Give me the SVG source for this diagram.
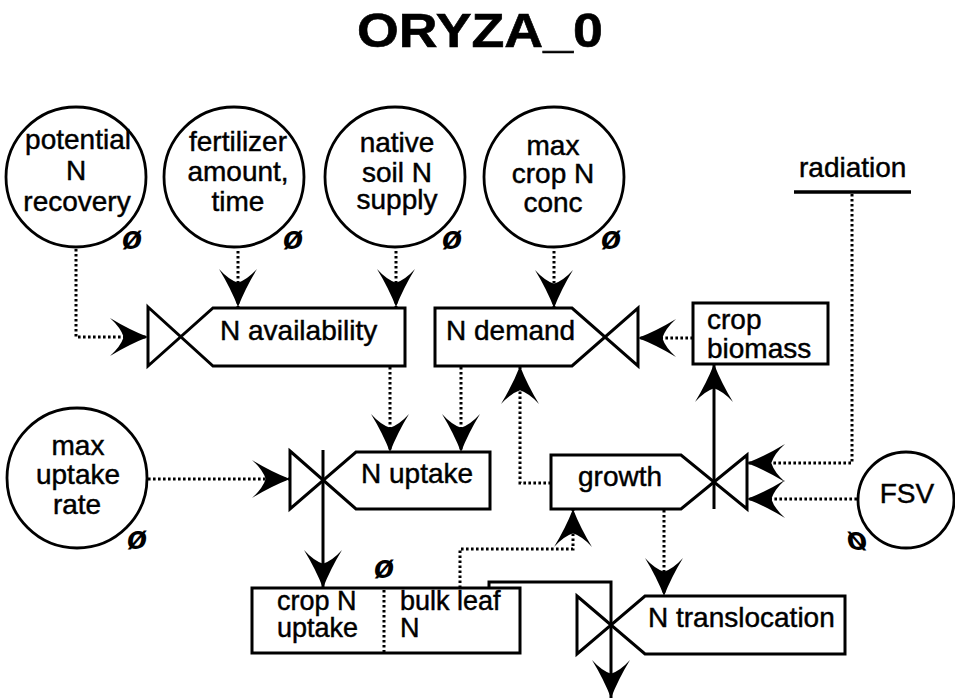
<svg xmlns="http://www.w3.org/2000/svg" width="955" height="699" viewBox="0 0 955 699">
  <style>
    .shape { fill: #fff; stroke: #000; stroke-width: 3; stroke-linejoin: miter; }
    .circ { fill: #fff; stroke: #000; stroke-width: 2.8; }
    .dot { fill: none; stroke: #000; stroke-width: 3; stroke-dasharray: 2.6 2.4; }
    .flow { fill: none; stroke: #000; stroke-width: 3; }
    .lbl { font-family: "Liberation Sans", Arial, Helvetica, sans-serif; font-size: 28px; fill: #000; stroke: #000; stroke-width: 0.45; }
    .sm { font-size: 27px; }
    .mid { text-anchor: middle; }
    .phi { font-family: "Liberation Sans", Arial, sans-serif; font-size: 33px; font-weight: bold; font-style: italic; text-anchor: middle; fill: #000; }
    .title { font-family: "Liberation Sans", Arial, sans-serif; font-size: 48px; font-weight: bold; fill: #000; stroke: #000; stroke-width: 0.6; }
  </style>
  <defs>
    <marker id="barb" viewBox="0 0 36 36" refX="36" refY="18" markerWidth="38" markerHeight="38" markerUnits="userSpaceOnUse" orient="auto">
      <path d="M36,18 Q18,11 0,0 Q10,9 13,18 Q10,27 0,36 Q18,25 36,18 Z" fill="#000"/>
    </marker>
  </defs>
  <rect width="955" height="699" fill="#fff"/>

  <text class="title" transform="translate(357,47) scale(1.12,1)">ORYZA_0</text>

  <!-- connectors -->
  <g id="connectors">
    <!-- information links (dotted) -->
    <path class="dot" d="M76,249 V337 H148" marker-end="url(#barb)"/>
    <path class="dot" d="M238,251 V307" marker-end="url(#barb)"/>
    <path class="dot" d="M396,251 V307" marker-end="url(#barb)"/>
    <path class="dot" d="M554,251 V308" marker-end="url(#barb)"/>
    <path class="dot" d="M693,338 H638" marker-end="url(#barb)"/>
    <path class="dot" d="M390,367 V452" marker-end="url(#barb)"/>
    <path class="dot" d="M461,367 V452" marker-end="url(#barb)"/>
    <path class="dot" d="M148,479 H290" marker-end="url(#barb)"/>
    <path class="dot" d="M551,483 H520 V366" marker-end="url(#barb)"/>
    <path class="dot" d="M852,194 V463 H747" marker-end="url(#barb)"/>
    <path class="dot" d="M857,499 H747" marker-end="url(#barb)"/>
    <path class="dot" d="M460,588 V549 H573 V509" marker-end="url(#barb)"/>
    <path class="dot" d="M664,510 V596" marker-end="url(#barb)"/>
    <!-- material flows (solid) -->
    <path class="flow" d="M323,450 V588" marker-end="url(#barb)"/>
    <path class="flow" d="M714,509 V364" marker-end="url(#barb)"/>
    <path class="flow" d="M489,588 V582 H611 V698" marker-end="url(#barb)"/>
  </g>

  <!-- parameter circles -->
  <g id="potential-n-recovery">
    <circle class="circ" cx="76" cy="177" r="70"/>
    <text class="lbl mid" x="78" y="149">potential</text>
    <text class="lbl mid" x="76" y="180">N</text>
    <text class="lbl mid" x="77" y="211">recovery</text>
    <text class="phi" x="132" y="249">ø</text>
  </g>
  <g id="fertilizer">
    <circle class="circ" cx="234" cy="177" r="70"/>
    <text class="lbl mid" x="238" y="151">fertilizer</text>
    <text class="lbl mid" x="238" y="181">amount,</text>
    <text class="lbl mid" x="238" y="211">time</text>
    <text class="phi" x="293" y="249">ø</text>
  </g>
  <g id="native-soil-n">
    <circle class="circ" cx="395" cy="177" r="70"/>
    <text class="lbl mid" x="397" y="152">native</text>
    <text class="lbl mid" x="397" y="182">soil N</text>
    <text class="lbl mid" x="397" y="209">supply</text>
    <text class="phi" x="452" y="249">ø</text>
  </g>
  <g id="max-crop-n-conc">
    <circle class="circ" cx="554" cy="177" r="70"/>
    <text class="lbl mid" x="553" y="155">max</text>
    <text class="lbl mid" x="553" y="183">crop N</text>
    <text class="lbl mid" x="553" y="212">conc</text>
    <text class="phi" x="611" y="249">ø</text>
  </g>
  <g id="max-uptake-rate">
    <circle class="circ" cx="77" cy="478" r="70"/>
    <text class="lbl mid" x="78" y="455">max</text>
    <text class="lbl mid" x="78" y="484">uptake</text>
    <text class="lbl mid" x="77" y="514">rate</text>
    <text class="phi" x="137" y="549">ø</text>
  </g>
  <g id="fsv">
    <circle class="circ" cx="906" cy="500" r="48"/>
    <text class="lbl mid" x="907" y="503">FSV</text>
    <text class="phi" transform="translate(857,550) scale(-1,1)" x="0" y="0">ø</text>
  </g>

  <!-- external driver -->
  <g id="radiation">
    <text class="lbl" x="799" y="177">radiation</text>
    <line x1="794" y1="192" x2="911" y2="192" stroke="#000" stroke-width="3.5"/>
  </g>

  <!-- rate nodes with valves -->
  <g id="n-availability">
    <path class="shape" d="M148,307 L213,366 L405,366 L405,308 L213,308 L148,366 Z"/>
    <text class="lbl" x="220" y="340">N availability</text>
  </g>
  <g id="n-demand">
    <path class="shape" d="M435,308 L572,308 L638,366 L638,308 L572,366 L435,366 Z"/>
    <text class="lbl" x="446" y="340">N demand</text>
  </g>
  <g id="n-uptake">
    <path class="shape" d="M290,451 L356,509 L490,509 L490,452 L356,452 L290,509 Z"/>
    <text class="lbl" x="361" y="483">N uptake</text>
  </g>
  <g id="growth">
    <path class="shape" d="M551,455 L681,455 L747,509 L747,455 L681,509 L551,509 Z"/>
    <text class="lbl" x="578" y="486">growth</text>
  </g>
  <g id="n-translocation">
    <path class="shape" d="M577,596 L645,654 L845,654 L845,596 L645,596 L577,654 Z"/>
    <text class="lbl" x="648" y="627">N translocation</text>
  </g>

  <!-- state nodes -->
  <g id="crop-biomass">
    <rect class="shape" x="693" y="303" width="135" height="61"/>
    <text class="lbl" x="707" y="329">crop</text>
    <text class="lbl" x="707" y="358">biomass</text>
  </g>
  <g id="crop-n-uptake">
    <rect class="shape" x="252" y="588" width="268" height="65"/>
    <line class="dot" x1="384" y1="590" x2="384" y2="652"/>
    <text class="lbl sm" x="277" y="610">crop N</text>
    <text class="lbl sm" x="277" y="637">uptake</text>
    <text class="lbl sm" x="400" y="610">bulk leaf</text>
    <text class="lbl sm" x="400" y="637">N</text>
    <text class="phi" x="384" y="578">ø</text>
  </g>
</svg>
